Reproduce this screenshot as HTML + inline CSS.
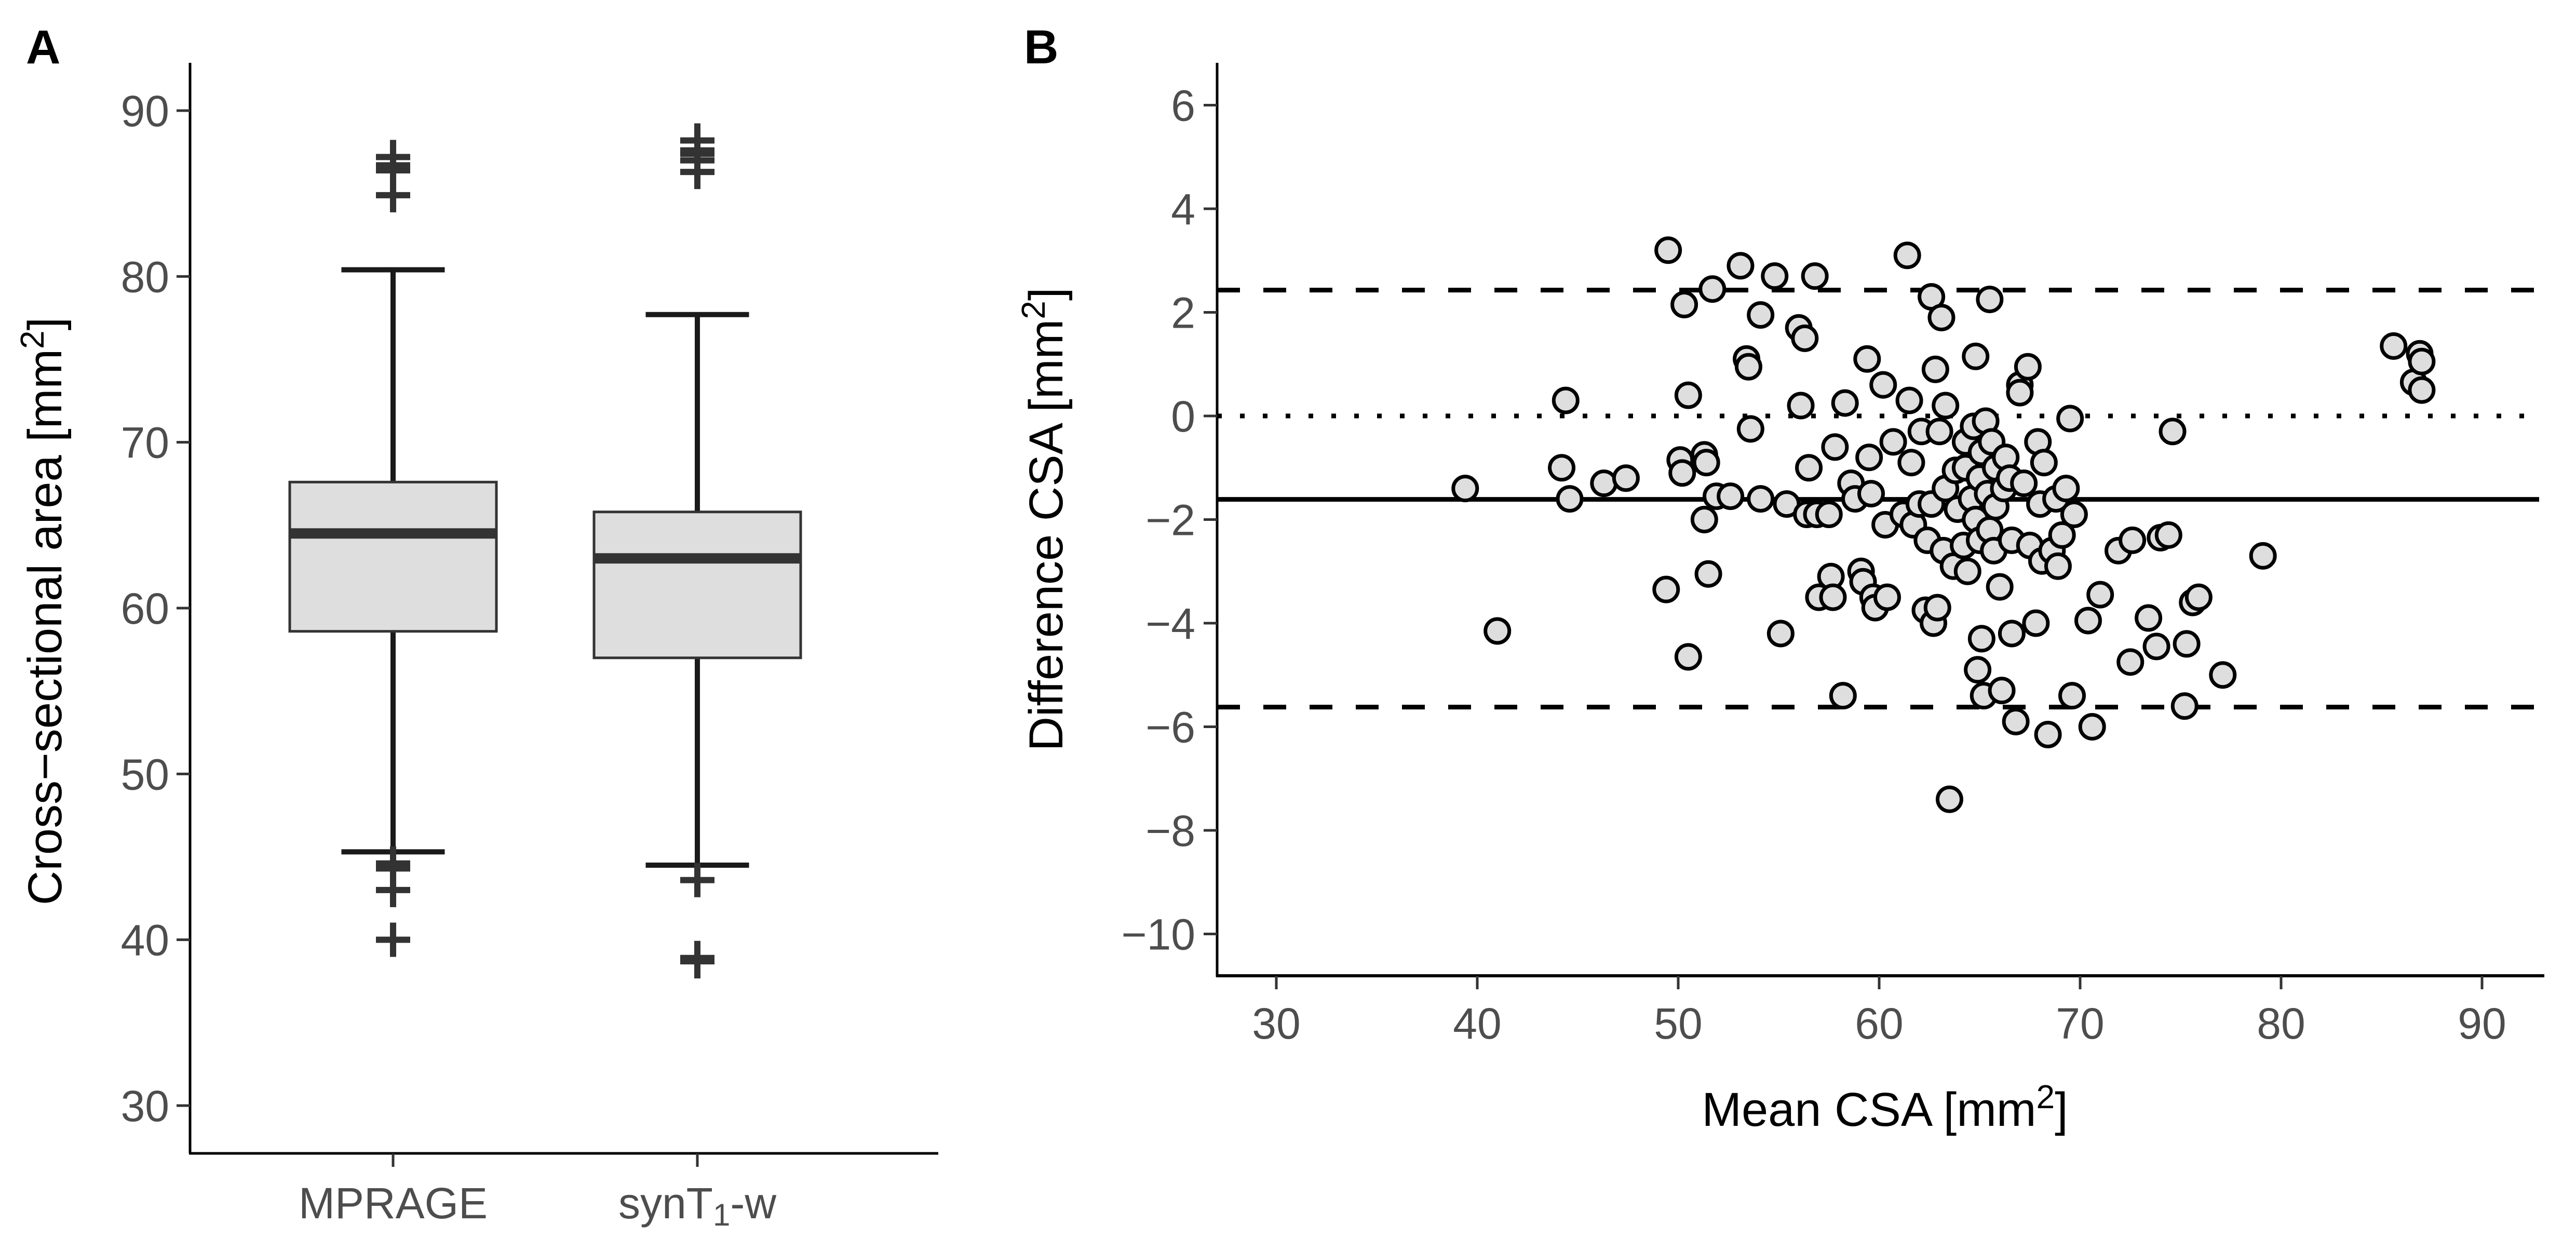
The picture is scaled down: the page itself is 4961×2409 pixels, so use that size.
<!DOCTYPE html>
<html><head><meta charset="utf-8"><style>
html,body{margin:0;padding:0;background:#fff}
svg{display:block}
text{font-family:"Liberation Sans",Arial,sans-serif}
</style></head><body>
<svg id="fig" width="4961" height="2409" viewBox="0 0 4961 2409" xmlns="http://www.w3.org/2000/svg">
<rect width="4961" height="2409" fill="#fff"/>
<g id="pa"></g>
<g id="pb"></g>
</svg>
<script>
// Panel A data
const boxCategories = ["MPRAGE", "synT1-w"];
const boxQ1 = [58.6, 57.0];
const boxMedian = [64.5, 63.0];
const boxQ3 = [67.6, 65.8];
const boxWhiskerLow = [45.3, 44.5];
const boxWhiskerHigh = [80.4, 77.7];
const boxOutliers = [[86.4, 86.7, 87.2, 84.9, 44.3, 44.6, 43.0, 40.0], [87.0, 87.4, 87.6, 86.3, 88.2, 43.6, 38.7, 38.9]];
const boxTicks = [30, 40, 50, 60, 70, 80, 90];

// Panel B data
const meanCSA = [39.4,41,44.2,44.4,44.6,46.3,47.4,49.4,49.5,50.1,50.2,50.3,50.5,50.5,51.3,51.3,51.4,51.5,51.7,51.9,52.6,53.1,53.4,53.5,53.6,54.1,54.1,54.8,55.1,55.4,56,56.1,56.3,56.4,56.5,56.8,56.9,57,57.5,57.6,57.7,57.8,58.2,58.3,58.6,58.8,59.1,59.2,59.4,59.5,59.6,59.7,59.8,60.2,60.3,60.4,60.7,61.2,61.4,61.5,61.6,61.7,62,62.1,62.3,62.4,62.6,62.6,62.7,62.8,62.9,63,63.1,63.2,63.3,63.3,63.5,63.7,63.8,63.9,64.2,64.3,64.3,64.4,64.6,64.7,64.8,64.8,64.9,65,65,65.1,65.1,65.2,65.3,65.4,65.5,65.5,65.6,65.7,65.8,65.8,66,66.1,66.2,66.3,66.5,66.6,66.6,66.8,67,67,67.2,67.4,67.5,67.8,67.9,68,68.1,68.2,68.4,68.6,68.8,68.9,69.1,69.3,69.5,69.6,69.7,70.4,70.6,71,71.9,72.5,72.6,73.4,73.8,74,74.4,74.6,75.2,75.3,75.6,75.9,77.1,79.1,85.6,86.6,86.9,87,87];
const diffCSA = [-1.4,-4.15,-1.0,0.3,-1.6,-1.3,-1.2,-3.35,3.2,-0.85,-1.1,2.15,0.4,-4.65,-0.75,-2.0,-0.9,-3.05,2.45,-1.55,-1.55,2.9,1.1,0.95,-0.25,1.95,-1.6,2.7,-4.2,-1.7,1.7,0.2,1.5,-1.9,-1.0,2.7,-1.9,-3.5,-1.9,-3.1,-3.5,-0.6,-5.4,0.25,-1.3,-1.6,-3.0,-3.2,1.1,-0.8,-1.5,-3.5,-3.7,0.6,-2.1,-3.5,-0.5,-1.9,3.1,0.3,-0.9,-2.1,-1.7,-0.3,-3.75,-2.4,2.3,-1.7,-4.0,0.9,-3.7,-0.3,1.9,-2.6,0.2,-1.4,-7.4,-2.9,-1.05,-1.8,-2.5,-0.5,-1.0,-3.0,-1.6,-0.2,1.15,-2.0,-4.9,-1.2,-2.4,-0.7,-4.3,-5.4,-0.1,-1.5,-2.2,2.25,-0.5,-2.6,-1.0,-1.75,-3.3,-5.3,-1.4,-0.8,-1.2,-2.4,-4.2,-5.9,0.6,0.45,-1.3,0.95,-2.5,-4.0,-0.5,-1.7,-2.8,-0.9,-6.15,-2.6,-1.6,-2.9,-2.3,-1.4,-0.05,-5.4,-1.9,-3.95,-6.0,-3.45,-2.6,-4.75,-2.4,-3.9,-4.45,-2.35,-2.3,-0.3,-5.6,-4.4,-3.6,-3.5,-5.0,-2.7,1.35,0.65,1.2,1.05,0.5];
const meanDiff = [-1.61];
const limitsOfAgreement = [2.43, -5.62];
const xTicksB = [30, 40, 50, 60, 70, 80, 90];
const yTicksB = [-10, -8, -6, -4, -2, 0, 2, 4, 6];

const NS = "http://www.w3.org/2000/svg";
const TICK_FS = 84, TITLE_FS = 92;
function mk(parent, tag, attrs, txt) {
  const e = document.createElementNS(NS, tag);
  for (const k in attrs) e.setAttribute(k, attrs[k]);
  if (txt !== undefined) e.textContent = txt;
  parent.appendChild(e);
  return e;
}

// ---------- Panel A ----------
const pa = document.getElementById('pa');
const yA = v => 2129 + (v - 30) * (213 - 2129) / 60;
const xA = i => [757, 1343][i];
const bw = 398;
let e;
e = mk(pa, 'text', {x: 50, y: 122, 'font-size': 92, 'font-weight': 'bold', fill: '#000'}, 'A');
 
e = mk(pa, 'line', {x1: 366, y1: 121, x2: 366, y2: 2221, stroke: '#000', 'stroke-width': 5});
 
e = mk(pa, 'line', {x1: 364, y1: 2221, x2: 1807, y2: 2221, stroke: '#000', 'stroke-width': 5});
 
boxTicks.forEach(t => {
  e = mk(pa, 'line', {x1: 340, y1: yA(t), x2: 366, y2: yA(t), stroke: '#333', 'stroke-width': 5});
   
  e = mk(pa, 'text', {x: 326, y: yA(t) + 30, 'font-size': TICK_FS, fill: '#4d4d4d', 'text-anchor': 'end'}, String(t));
   
});
e = mk(pa, 'text', {x: 0, y: 0, 'font-size': TITLE_FS, fill: '#000', 'text-anchor': 'middle', transform: 'translate(118,1177) rotate(-90)'});
 
e.innerHTML = 'Cross\u2212sectional area [mm<tspan dy="-34" font-size="64">2</tspan><tspan dy="34">]</tspan>';
boxCategories.forEach((c, i) => {
  const cx = xA(i);
  const g = mk(pa, 'g', {});
   
  mk(g, 'line', {x1: cx, y1: yA(boxWhiskerHigh[i]), x2: cx, y2: yA(boxQ3[i]), stroke: '#1a1a1a', 'stroke-width': 10});
  mk(g, 'line', {x1: cx, y1: yA(boxQ1[i]), x2: cx, y2: yA(boxWhiskerLow[i]), stroke: '#1a1a1a', 'stroke-width': 10});
  mk(g, 'line', {x1: cx - bw / 4, y1: yA(boxWhiskerHigh[i]), x2: cx + bw / 4, y2: yA(boxWhiskerHigh[i]), stroke: '#1a1a1a', 'stroke-width': 10});
  mk(g, 'line', {x1: cx - bw / 4, y1: yA(boxWhiskerLow[i]), x2: cx + bw / 4, y2: yA(boxWhiskerLow[i]), stroke: '#1a1a1a', 'stroke-width': 10});
  mk(g, 'rect', {x: cx - bw / 2, y: yA(boxQ3[i]), width: bw, height: yA(boxQ1[i]) - yA(boxQ3[i]), fill: '#dedede', stroke: '#333', 'stroke-width': 5});
  mk(g, 'line', {x1: cx - bw / 2, y1: yA(boxMedian[i]), x2: cx + bw / 2, y2: yA(boxMedian[i]), stroke: '#333', 'stroke-width': 20});
  boxOutliers[i].forEach(v => {
    const p = mk(g, 'path', {d: `M${cx - 33},${yA(v)}h66M${cx},${yA(v) - 33}v66`, stroke: '#333', 'stroke-width': 12, fill: 'none'});
     
  });
  mk(pa, 'line', {x1: cx, y1: 2221, x2: cx, y2: 2247, stroke: '#333', 'stroke-width': 5});
  const t = mk(pa, 'text', {x: cx, y: 2346, 'font-size': TICK_FS, fill: '#4d4d4d', 'text-anchor': 'middle'});
   
  if (i === 0) t.textContent = c; else t.innerHTML = 'synT<tspan font-size="60" dy="14">1</tspan><tspan dy="-14">-w</tspan>';
});

// ---------- Panel B ----------
const pb = document.getElementById('pb');
const xB = v => 2458 + (v - 30) * 38.7;
const yB = v => 801 - v * 99.75;
e = mk(pb, 'text', {x: 1972, y: 122, 'font-size': 92, 'font-weight': 'bold', fill: '#000'}, 'B');
 
e = mk(pb, 'line', {x1: 2344, y1: 121, x2: 2344, y2: 1881, stroke: '#000', 'stroke-width': 5});
 
e = mk(pb, 'line', {x1: 2342, y1: 1879, x2: 4900, y2: 1879, stroke: '#000', 'stroke-width': 6});
 
yTicksB.forEach(t => {
  e = mk(pb, 'line', {x1: 2318, y1: yB(t), x2: 2344, y2: yB(t), stroke: '#333', 'stroke-width': 5});
   
  e = mk(pb, 'text', {x: 2302, y: yB(t) + 30, 'font-size': TICK_FS, fill: '#4d4d4d', 'text-anchor': 'end'}, t < 0 ? '\u2212' + Math.abs(t) : String(t));
   
});
xTicksB.forEach(t => {
  e = mk(pb, 'line', {x1: xB(t), y1: 1879, x2: xB(t), y2: 1905, stroke: '#333', 'stroke-width': 5});
   
  e = mk(pb, 'text', {x: xB(t), y: 2000, 'font-size': TICK_FS, fill: '#4d4d4d', 'text-anchor': 'middle'}, String(t));
   
});
e = mk(pb, 'text', {x: 3630, y: 2168, 'font-size': TITLE_FS, fill: '#000', 'text-anchor': 'middle'});
 
e.innerHTML = 'Mean CSA [mm<tspan dy="-34" font-size="64">2</tspan><tspan dy="34">]</tspan>';
e = mk(pb, 'text', {x: 0, y: 0, 'font-size': TITLE_FS, fill: '#000', 'text-anchor': 'middle', transform: 'translate(2046,1000) rotate(-90)'});
 
e.innerHTML = 'Difference CSA [mm<tspan dy="-34" font-size="64">2</tspan><tspan dy="34">]</tspan>';
// reference lines
e = mk(pb, 'line', {x1: 2344, y1: yB(0), x2: 4890, y2: yB(0), stroke: '#000', 'stroke-width': 9, 'stroke-dasharray': '9 35'});
 
limitsOfAgreement.forEach(v => {
  e = mk(pb, 'line', {x1: 2344, y1: yB(v), x2: 4890, y2: yB(v), stroke: '#000', 'stroke-width': 9, 'stroke-dasharray': '44 45'});
   
});
e = mk(pb, 'line', {x1: 2344, y1: yB(meanDiff[0]), x2: 4890, y2: yB(meanDiff[0]), stroke: '#000', 'stroke-width': 9});
 
meanCSA.forEach((m, i) => {
  const c = mk(pb, 'circle', {cx: xB(m), cy: yB(diffCSA[i]), r: 23, fill: '#dedede', stroke: '#000', 'stroke-width': 7});
  
  
});
</script>
</body></html>
